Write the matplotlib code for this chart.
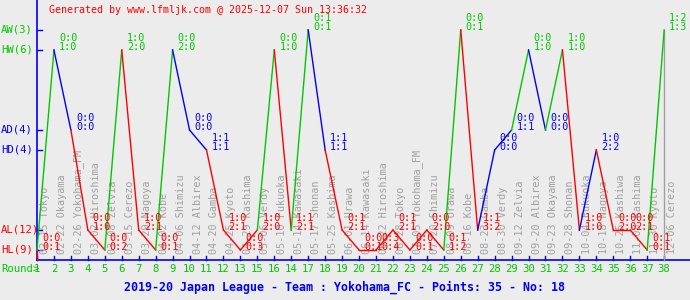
import matplotlib.pyplot as plt

# match data, in order played
rounds = [1, 2, 3, 4, 5, 6, 7, 8, 9, 10, 11, 12, 13, 15, 16, 14, 17, 18, 19,
          20, 21, 22, 23, 24, 25, 26, 27, 28, 29, 30, 31, 32, 33, 34, 35, 36, 37, 38]
dates = ["02-15", "02-22", "02-26", "03-02", "03-08", "03-15", "03-29", "04-02",
         "04-06", "04-12", "04-20", "04-25", "04-29", "05-06", "05-10", "05-14",
         "05-17", "05-25", "06-01", "06-14", "06-22", "06-28", "07-05", "07-20",
         "08-09", "08-16", "08-23", "08-30", "09-12", "09-20", "09-23", "09-28",
         "10-04", "10-18", "10-25", "11-08", "11-30", "12-06"]
opponents = ["Tokyo", "Okayama", "Yokohama_FM", "Hiroshima", "Zelvia", "Cerezo",
             "Nagoya", "Kobe", "Shimizu", "Albirex", "Gamba", "Kyoto", "Kashima",
             "Verdy", "Fukuoka", "Kawasaki", "Shonan", "Kashima", "Urawa",
             "Kawasaki", "Hiroshima", "Tokyo", "Yokohama_FM", "Shimizu", "Urawa",
             "Kobe", "Gamba", "Verdy", "Zelvia", "Albirex", "Okayama", "Shonan",
             "Fukuoka", "Nagoya", "Kashiwa", "Kashima", "Kyoto", "Cerezo"]
half_time = ["0:0", "0:0", "0:0", "0:0", "0:0", "1:0", "1:0", "0:0", "0:0", "0:0",
             "1:1", "1:0", "0:0", "1:0", "0:0", "1:1", "0:1", "1:1", "0:1", "0:0",
             "0:3", "0:1", "0:0", "0:0", "0:1", "0:0", "1:1", "0:0", "0:0", "0:0",
             "0:0", "1:0", "1:0", "1:0", "0:0", "0:0", "0:1", "1:2"]
full_time = ["0:1", "1:0", "0:0", "1:0", "0:2", "2:0", "2:1", "0:1", "2:0", "0:0",
             "1:1", "2:1", "0:3", "2:0", "1:0", "2:1", "0:1", "1:1", "2:1", "0:1",
             "0:4", "2:1", "0:1", "2:0", "1:2", "0:1", "3:2", "0:0", "1:1", "1:0",
             "0:0", "1:0", "1:0", "2:2", "2:0", "2:1", "0:1", "1:3"]
results = ["HL", "HW", "AD", "AL", "HL", "HW", "AL", "HL", "HW", "AD", "HD", "AL",
           "HL", "AL", "HW", "AL", "AW", "HD", "AL", "HL", "HL", "AL", "HL", "AL",
           "HL", "AW", "AL", "HD", "AD", "HW", "AD", "HW", "AL", "HD", "AL", "AL",
           "HL", "AW"]

level_order = ["AW", "HW", "AD", "HD", "AL", "HL"]
level_y = {"AW": 11, "HW": 10, "AD": 6, "HD": 5, "AL": 1, "HL": 0}

bg = "#ececec"
green = "#00c800"
red = "#ff0000"
blue = "#0000ff"
grey = "#a0a0a0"
res_color = {"W": green, "D": blue, "L": red}

mono = "DejaVu Sans Mono"
fs = 7.3

fig = plt.figure(figsize=(6.9, 3.0), dpi=100)
fig.patch.set_facecolor(bg)
ax = fig.add_axes([0, 0, 1, 1])
ax.set_facecolor(bg)
# 1 round = 16.95 px, 1 y unit = 20 px
ax.set_xlim(1 - 37 / 16.95, 1 + 653 / 16.95)
ax.set_ylim(-2.5, 12.5)
ax.axis("off")

pos = list(range(1, len(rounds) + 1))
ys = [level_y[r] for r in results]

# axes
ax.plot([1, 40], [-0.5, -0.5], color=blue, lw=1.2)
ax.plot([1, 1], [-0.5, 12.5], color=blue, lw=1.2)
for p in pos:
    ax.plot([p, p], [-0.5, -0.3], color=blue, lw=1)
for lv in level_order:
    ax.plot([1, 1 + 5 / 16.95], [level_y[lv], level_y[lv]], color=blue, lw=1)

# last round marker
ax.plot([pos[-1], pos[-1]], [-0.5, level_y["AW"]], color=grey, lw=1)

# match labels (rotated)
for p, d, o in zip(pos, dates, opponents):
    ax.annotate(f"{d} {o}", xy=(p, level_y["HL"]), xytext=(8, -4),
                textcoords="offset pixels", rotation=90, ha="center", va="bottom",
                color=grey, family=mono, fontsize=fs)

# result line
px = [1] + pos
py = [-0.5] + ys
for i, r in enumerate(results):
    ax.plot(px[i:i + 2], py[i:i + 2], color=res_color[r[1]], lw=1.0, zorder=3)

# score labels
for p, y, h, f, r in zip(pos, ys, half_time, full_time, results):
    c = res_color[r[1]]
    ax.annotate(h, xy=(p, y), xytext=(5, 9), textcoords="offset pixels",
                ha="left", va="baseline", color=c, family=mono, fontsize=fs, zorder=4)
    ax.annotate(f, xy=(p, y), xytext=(5, 0), textcoords="offset pixels",
                ha="left", va="baseline", color=c, family=mono, fontsize=fs, zorder=4)

# y level labels
lv_color = {"W": green, "D": blue, "L": red}
for lv in level_order:
    ax.text(1 / 690, level_y[lv], f"{lv}({results.count(lv)})",
            transform=ax.get_yaxis_transform(), ha="left", va="center",
            color=lv_color[lv[1]], family=mono, fontsize=fs + 0.4)

# round numbers
for p, r in zip(pos, rounds):
    ax.text(p, -0.95, str(r), ha="center", va="center", color=green,
            family=mono, fontsize=fs + 0.4)
fig.text(1 / 690, 1 - 269 / 300, "Round>", ha="left", va="center", color=green,
         family=mono, fontsize=fs + 0.4)

fig.text(208 / 690, 1 - 10 / 300,
         "Generated by www.lfmljk.com @ 2025-12-07 Sun 13:36:32",
         ha="center", va="center", color=red, family=mono, fontsize=7.2)
fig.text(345 / 690, 1 - 287 / 300,
         "2019-20 Japan League - Team : Yokohama_FC - Points: 35 - No: 18",
         ha="center", va="center", color=blue, family=mono, fontsize=8.4,
         weight="bold")

fig.savefig("out.png", dpi=100, facecolor=bg)
